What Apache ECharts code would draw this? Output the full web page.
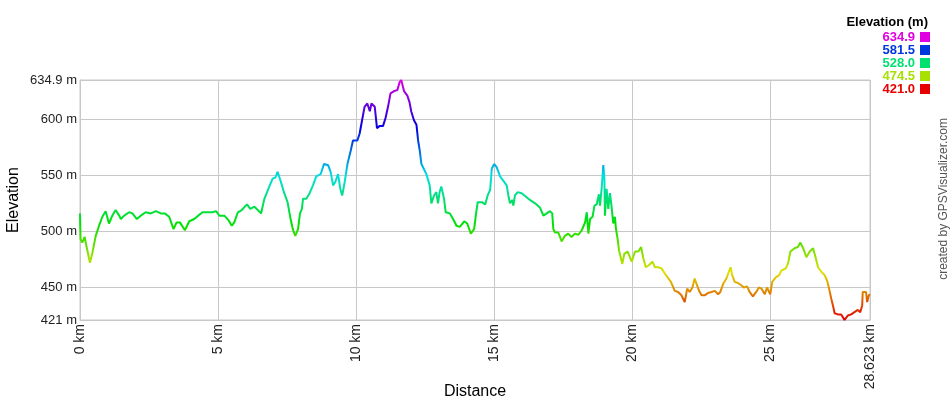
<!DOCTYPE html>
<html>
<head>
<meta charset="utf-8">
<title>Elevation profile</title>
<script src="https://cdn.jsdelivr.net/npm/echarts@6/dist/echarts.min.js"></script>
<style>
  html, body { margin: 0; padding: 0; background: #fff; }
  #chart { width: 950px; height: 400px; }
</style>
</head>
<body>
<div id="chart"></div>
<script>
  // distance (km) and elevation (m)
  const distance = [
    0, 0.02, 0.08, 0.17, 0.24, 0.36, 0.45, 0.57, 0.69, 0.81, 0.93, 1.05, 1.17, 1.29, 1.42, 1.48, 1.6, 1.78, 1.9,
    2.06, 2.2, 2.38, 2.57, 2.75, 2.93, 3.07, 3.23, 3.39, 3.5, 3.62, 3.8, 3.96, 4.14, 4.28, 4.44, 4.62, 4.8, 4.93,
    5.05, 5.23, 5.38, 5.5, 5.59, 5.72, 5.86, 6.05, 6.17, 6.32, 6.44, 6.56, 6.68, 6.86, 6.98, 7.08, 7.16, 7.28,
    7.4, 7.52, 7.63, 7.72, 7.8, 7.9, 7.97, 8.04, 8.08, 8.2, 8.32, 8.44, 8.56, 8.72, 8.84, 8.99, 9.08, 9.17,
    9.25, 9.35, 9.43, 9.5, 9.59, 9.69, 9.81, 9.89, 10.05, 10.13, 10.22, 10.31, 10.41, 10.5, 10.56, 10.68,
    10.76, 10.86, 10.98, 11.07, 11.16, 11.25, 11.38, 11.5, 11.58, 11.64, 11.74, 11.86, 11.94, 12.0, 12.1,
    12.19, 12.25, 12.31, 12.37, 12.45, 12.55, 12.67, 12.73, 12.83, 12.91, 12.97, 13.03, 13.09, 13.19, 13.25,
    13.4, 13.52, 13.64, 13.76, 13.92, 14.03, 14.16, 14.28, 14.34, 14.41, 14.56, 14.68, 14.77, 14.86, 14.92,
    15.01, 15.1, 15.22, 15.34, 15.46, 15.52, 15.58, 15.66, 15.7, 15.76, 15.86, 16.0, 16.15, 16.3, 16.49,
    16.67, 16.79, 16.91, 17.03, 17.11, 17.15, 17.21, 17.33, 17.45, 17.57, 17.69, 17.81, 17.93, 18.06, 18.18,
    18.3, 18.36, 18.42, 18.48, 18.57, 18.64, 18.72, 18.8, 18.84, 18.9, 18.96, 19.0, 19.02, 19.08, 19.14, 19.2,
    19.26, 19.32, 19.38, 19.42, 19.48, 19.53, 19.6, 19.65, 19.72, 19.84, 19.99, 20.11, 20.23, 20.33, 20.41,
    20.5, 20.62, 20.74, 20.83, 20.95, 21.07, 21.2, 21.32, 21.41, 21.55, 21.67, 21.79, 21.91, 22.0, 22.09,
    22.19, 22.27, 22.34, 22.43, 22.52, 22.63, 22.75, 22.88, 23.0, 23.12, 23.2, 23.3, 23.42, 23.51, 23.57,
    23.63, 23.72, 23.84, 23.96, 24.05, 24.17, 24.26, 24.38, 24.5, 24.6, 24.69, 24.81, 24.89, 25.01, 25.08,
    25.21, 25.33, 25.41, 25.57, 25.65, 25.74, 25.89, 26.01, 26.1, 26.2, 26.32, 26.44, 26.56, 26.65, 26.74,
    26.86, 26.98, 27.07, 27.14, 27.22, 27.28, 27.34, 27.46, 27.58, 27.7, 27.82, 27.94, 28.06, 28.18, 28.27,
    28.34, 28.36, 28.48, 28.52, 28.58, 28.623
  ];
  const elevation = [
    516, 493, 490, 495, 486, 472, 481, 496, 505, 513, 518, 507, 514, 519, 514, 511, 514, 517, 516,
    511, 514, 517, 516, 518, 516, 516, 513, 502, 508, 508, 501, 509, 511, 514, 517, 517, 517, 518,
    514, 514, 510, 505, 508, 517, 519, 524, 520, 522, 519, 516, 529, 540, 547, 548, 553, 544,
    534, 526, 511, 501, 496, 502, 516, 520, 529, 529, 534, 541, 549, 551, 560, 559, 553, 541,
    544, 551, 538, 532, 544, 560, 572, 581, 581, 587, 599, 611, 614, 607, 614, 611,
    592, 594, 594, 601, 611, 623, 625, 626, 633, 634.9, 625, 621, 615, 607, 599,
    595, 581, 572, 560, 556, 551, 541, 525, 532, 535, 525, 535, 540, 529, 517,
    516, 511, 505, 504, 509, 507, 498, 502, 514, 526, 526, 524, 532, 537, 556,
    560, 557, 549, 545, 541, 532, 525, 528, 523, 532, 535, 534, 531, 528, 525,
    521, 514, 516, 518, 516, 502, 499, 499, 491, 496, 498, 495, 498, 497, 501,
    508, 517, 498, 511, 513, 523, 524, 533, 523, 538, 559, 547, 514, 538, 520, 534,
    522, 507, 513, 502, 493, 483, 482, 471, 480, 482, 473, 482, 482, 486, 476,
    468, 470, 473, 468, 468, 467, 462, 458, 455, 447, 446, 443, 437, 449, 446,
    450, 458, 458, 447, 443, 443, 445, 446, 447, 444, 446, 453, 458, 464, 468,
    461, 455, 454, 452, 450, 451, 446, 442, 446, 450, 449, 444, 450, 444, 455,
    459, 461, 465, 467, 471, 482, 485, 486, 490, 485, 477, 482, 485, 477, 468,
    464, 461, 456, 449, 440, 434, 427, 426, 426, 421, 425, 426, 428, 430, 428,
    434, 446, 446, 437, 443, 444
  ];

  const yMin = 421;
  const yMax = 634.9;
  const yTicks = [421, 450, 500, 550, 600, 634.9];
  const xTicks = [0, 5, 10, 15, 20, 25, 28.623];

  // legend of the colour scale
  const legendValues = ['634.9', '581.5', '528.0', '474.5', '421.0'];
  const legendColors = ['#e000e0', '#0038e0', '#00e070', '#a8e000', '#e80000'];

  // hue ramp red -> magenta used along the line
  const rampColors = [
    '#e00000', '#e07000', '#e0e000', '#70e000', '#00e000', '#00e070',
    '#00e0e0', '#0070e0', '#0000e0', '#7000e0', '#e000e0'
  ];

  const font = '"Liberation Sans", Arial, sans-serif';
  const points = distance.map((d, i) => [d, elevation[i]]);

  const legendGraphics = [{
    type: 'text',
    right: 22,
    top: 16,
    style: { text: 'Elevation (m)', font: 'bold 13px ' + font, fill: '#000', textAlign: 'right' }
  }];
  legendValues.forEach((v, i) => {
    legendGraphics.push({
      type: 'text',
      right: 35,
      top: 31 + i * 13,
      style: { text: v, font: 'bold 13px ' + font, fill: legendColors[i] }
    });
    legendGraphics.push({
      type: 'rect',
      right: 20,
      top: 32 + i * 13,
      shape: { width: 10, height: 10 },
      style: { fill: legendColors[i] }
    });
  });
  legendGraphics.push({
    type: 'text',
    left: 938,
    top: 118,
    rotation: Math.PI / 2,
    style: { text: 'created by GPSVisualizer.com', font: '12px ' + font, fill: '#555' }
  });

  const chart = echarts.init(document.getElementById('chart'));
  chart.setOption({
    animation: false,
    backgroundColor: '#fff',
    grid: {
      left: 80, right: 80, top: 80, bottom: 80,
      outerBoundsMode: 'none',
      containLabel: false,
      show: true, borderColor: '#c8c8c8', borderWidth: 1
    },
    xAxis: {
      type: 'value',
      min: 0,
      max: 28.623,
      name: 'Distance',
      nameLocation: 'middle',
      nameGap: 64,
      nameMoveOverlap: false,
      nameTextStyle: { fontFamily: font, fontSize: 16, color: '#000' },
      axisLine: { show: true, lineStyle: { color: '#c8c8c8' } },
      axisTick: { show: false, customValues: xTicks },
      splitLine: { show: true, lineStyle: { color: '#c8c8c8', width: 1 } },
      axisLabel: {
        customValues: xTicks,
        rotate: 90,
        margin: 4,
        fontFamily: font,
        fontSize: 14,
        color: '#222',
        formatter: v => v + ' km'
      }
    },
    yAxis: {
      type: 'value',
      min: yMin,
      max: yMax,
      name: 'Elevation',
      nameLocation: 'middle',
      nameGap: 58,
      nameMoveOverlap: false,
      nameRotate: 90,
      nameTextStyle: { fontFamily: font, fontSize: 16, color: '#000' },
      axisLine: { show: true, lineStyle: { color: '#c8c8c8' } },
      axisTick: { show: false, customValues: yTicks },
      splitLine: { show: true, lineStyle: { color: '#c8c8c8', width: 1 } },
      axisLabel: {
        customValues: yTicks,
        margin: 3,
        fontFamily: font,
        fontSize: 13,
        color: '#222',
        formatter: v => v + ' m'
      }
    },
    visualMap: {
      show: false,
      type: 'continuous',
      dimension: 1,
      min: yMin,
      max: yMax,
      inRange: { color: rampColors }
    },
    graphic: legendGraphics,
    series: [{
      type: 'line',
      data: points,
      showSymbol: false,
      symbol: 'none',
      lineStyle: { width: 2 }
    }]
  });
</script>
</body>
</html>
